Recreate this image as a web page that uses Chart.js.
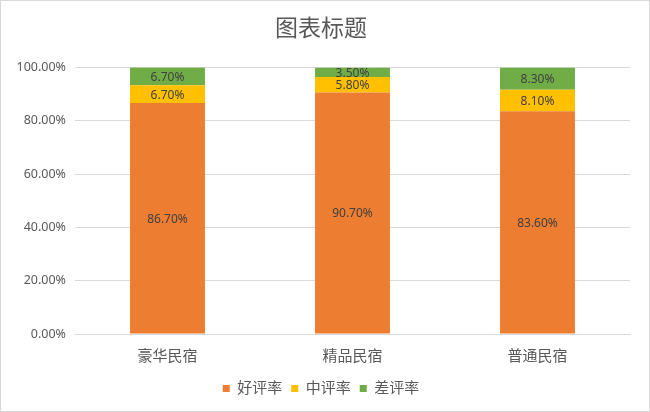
<!DOCTYPE html>
<html>
<head>
<meta charset="utf-8">
<script src="https://cdn.jsdelivr.net/npm/chart.js@4.4.1/dist/chart.umd.min.js"></script>
<style>
  html, body { margin: 0; padding: 0; background: #fff; }
  #wrap { width: 650px; height: 412px; }
</style>
</head>
<body>
<div id="wrap"><canvas id="myChart" width="650" height="412"></canvas></div>
<script>
const categories = ['豪华民宿', '精品民宿', '普通民宿'];
const seriesNames = ['好评率', '中评率', '差评率'];
const goodRate = [86.7, 90.7, 83.6];
const midRate = [6.7, 5.8, 8.1];
const badRate = [6.7, 3.5, 8.3];
const seriesColors = ['#ED7D31', '#FFC000', '#70AD47'];
const yTicks = [0, 20, 40, 60, 80, 100];

const fontFamily = '"Noto Sans", "Noto Sans CJK SC", sans-serif';

// white background plus thin border round the whole picture
const frame = {
  id: 'frame',
  beforeDraw(chart) {
    const c = chart.ctx;
    c.save();
    c.fillStyle = '#fff';
    c.fillRect(0, 0, chart.width, chart.height);
    c.strokeStyle = '#d9d9d9';
    c.lineWidth = 1;
    c.strokeRect(0.5, 0.5, chart.width - 1, chart.height - 1);
    c.restore();
  }
};

// value labels in the middle of each segment
const segLabels = {
  id: 'segLabels',
  afterDatasetsDraw(chart) {
    const c = chart.ctx;
    c.save();
    c.font = '12px ' + fontFamily;
    c.fillStyle = '#404040';
    c.textAlign = 'center';
    c.textBaseline = 'middle';
    chart.data.datasets.forEach((ds, i) => {
      chart.getDatasetMeta(i).data.forEach((bar, j) => {
        const mid = (bar.y + bar.base) / 2 + 1;
        c.fillText(ds.data[j].toFixed(2) + '%', bar.x, mid);
      });
    });
    c.restore();
  }
};

const ctx = document.getElementById('myChart').getContext('2d');
new Chart(ctx, {
  type: 'bar',
  data: {
    labels: categories,
    datasets: [
      { label: seriesNames[0], data: goodRate, backgroundColor: seriesColors[0] },
      { label: seriesNames[1], data: midRate, backgroundColor: seriesColors[1] },
      { label: seriesNames[2], data: badRate, backgroundColor: seriesColors[2] }
    ]
  },
  options: {
    responsive: false,
    animation: false,
    layout: { padding: { left: 12, right: 20, top: 0, bottom: 6 } },
    datasets: {
      bar: { categoryPercentage: 1, barPercentage: 0.405 }
    },
    plugins: {
      title: {
        display: true,
        text: '图表标题',
        color: '#595959',
        font: { size: 23, family: fontFamily, weight: 'normal' },
        padding: { top: 16, bottom: 24 }
      },
      legend: {
        position: 'bottom',
        labels: {
          boxWidth: 7,
          boxHeight: 7,
          color: '#595959',
          font: { size: 15, family: fontFamily },
          padding: 9
        }
      },
      tooltip: { enabled: false }
    },
    scales: {
      x: {
        stacked: true,
        grid: { display: false },
        border: { color: '#d9d9d9' },
        ticks: { color: '#595959', font: { size: 15, family: fontFamily }, padding: 6 }
      },
      y: {
        stacked: true,
        min: 0,
        max: 100,
        afterBuildTicks: (axis) => { axis.ticks = yTicks.map(v => ({ value: v })); },
        afterFit: (axis) => { axis.width = 63; },
        grid: { color: '#d9d9d9', drawTicks: false },
        border: { display: false },
        ticks: {
          color: '#595959',
          font: { size: 12.5, family: fontFamily },
          padding: 9,
          callback: (v) => v.toFixed(2) + '%'
        }
      }
    }
  },
  plugins: [frame, segLabels]
});
</script>
</body>
</html>
